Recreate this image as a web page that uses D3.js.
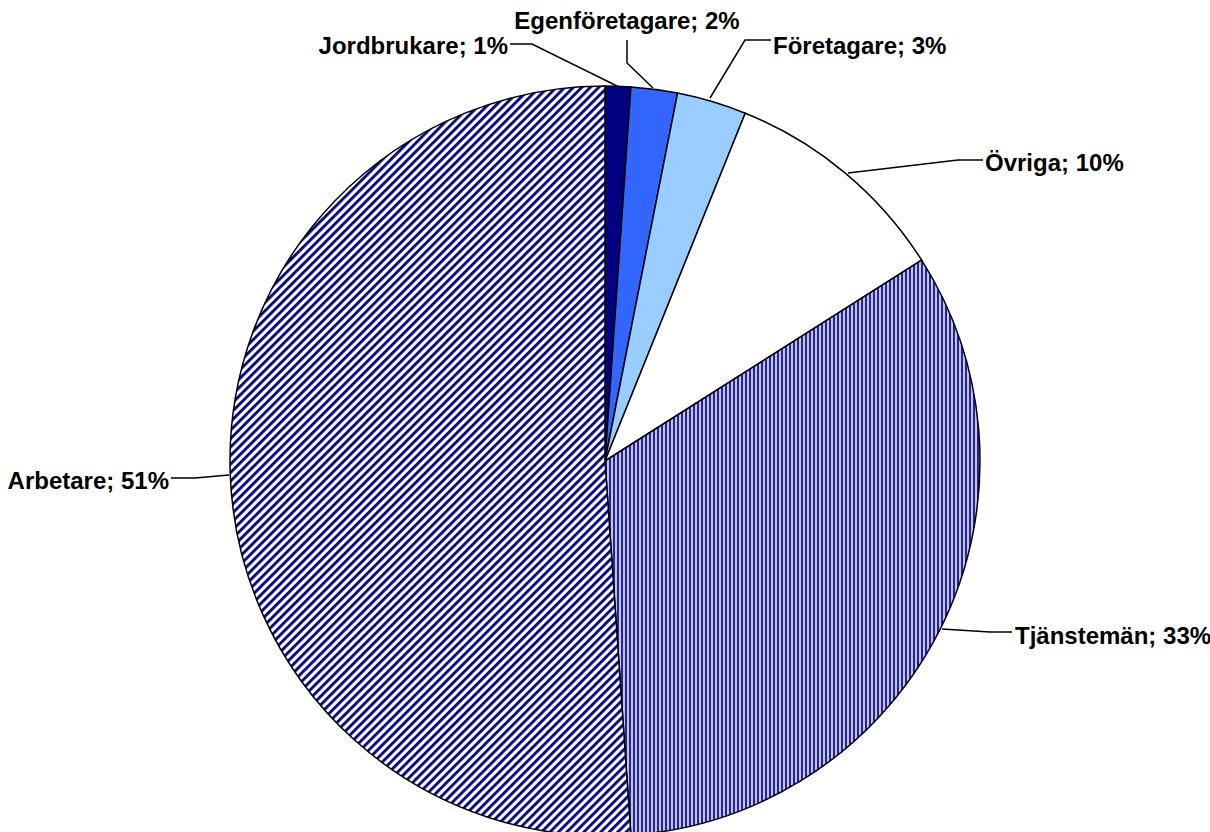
<!DOCTYPE html>
<html><head><meta charset="utf-8">
<script src="https://cdn.jsdelivr.net/npm/d3@7"></script>
<style>body{margin:0;background:#fff;overflow:hidden}svg{display:block}</style>
</head><body>
<script>
const categories = ["Jordbrukare","Egenföretagare","Företagare","Övriga","Tjänstemän","Arbetare"];
const values = [1.1, 2.0, 3.0, 9.9, 32.9, 51.1];
const pctLabels = ["1%","2%","3%","10%","33%","51%"];

const W=1210,H=832, cx=605, cy=461, R=375;
const svg=d3.select("body").append("svg").attr("width",W).attr("height",H);
const defs=svg.append("defs");
const pd=defs.append("pattern").attr("id","diag").attr("patternUnits","userSpaceOnUse")
  .attr("width",6).attr("height",6).attr("patternTransform","rotate(45)");
pd.append("rect").attr("width",6).attr("height",6).attr("fill","#fff");
pd.append("rect").attr("width",2.8).attr("height",6).attr("fill","#000080");
const pv=defs.append("pattern").attr("id","vert").attr("patternUnits","userSpaceOnUse")
  .attr("width",4).attr("height",4);
pv.append("rect").attr("width",4).attr("height",4).attr("fill","#c4c4f2");
pv.append("rect").attr("width",2).attr("height",4).attr("fill","#24249c");

const fills=["#000080","#3366ff","#99ccff","#ffffff","url(#vert)","url(#diag)"];
const data=categories.map((c,i)=>({c,v:values[i],p:pctLabels[i],f:fills[i]}));
const pie=d3.pie().value(d=>d.v).sort(null);
const arc=d3.arc().innerRadius(0).outerRadius(R);
const g=svg.append("g").attr("transform",`translate(${cx},${cy})`);
const arcs=pie(data);
g.selectAll("path").data(arcs).join("path").attr("d",arc)
  .attr("fill",d=>d.data.f).attr("stroke","#000").attr("stroke-width",1.5);

const leaders=[
 {pts:[[510,44],[532,44],[617,86]], tx:508, ty:45, anchor:"end"},
 {pts:[[627,40],[627,63],[653,88]], tx:627, ty:20, anchor:"middle"},
 {pts:[[771,40],[745,40],[710,98]], tx:773, ty:45, anchor:"start"},
 {pts:[[983,160],[958,160],[848,173]], tx:985, ty:162, anchor:"start"},
 {pts:[[1012,632],[990,632],[942,629]], tx:1015, ty:635, anchor:"start"},
 {pts:[[171,478],[195,478],[229,475]], tx:169, ty:480, anchor:"end"}
];
svg.selectAll("path.lead").data(leaders).join("path").attr("class","lead")
  .attr("d",d=>d3.line()(d.pts)).attr("fill","none").attr("stroke","#000").attr("stroke-width",1.5);
svg.selectAll("text.lbl").data(leaders).join("text").attr("class","lbl")
  .attr("x",d=>d.tx).attr("y",d=>d.ty).attr("text-anchor",d=>d.anchor)
  .attr("dominant-baseline","central")
  .attr("font-family","Liberation Sans, Arial, sans-serif").attr("font-weight","bold").attr("font-size",24)
  .text((d,i)=>`${data[i].c}; ${data[i].p}`);
</script>
</body></html>
